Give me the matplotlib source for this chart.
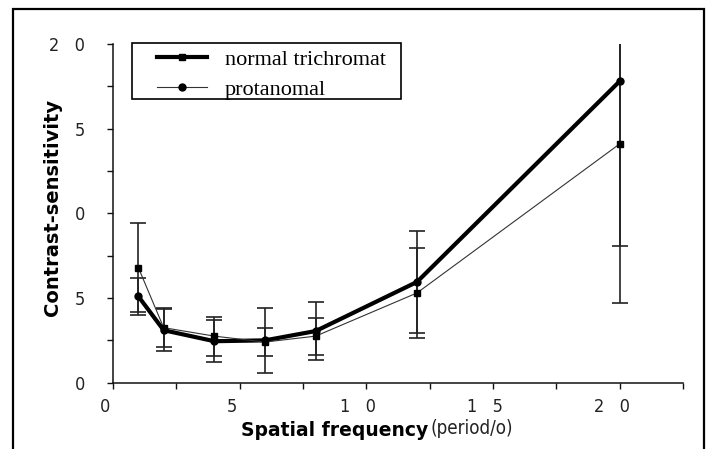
import matplotlib
matplotlib.use("Agg")
import matplotlib.pyplot as plt
from matplotlib import font_manager
from matplotlib.font_manager import FontProperties
from matplotlib.lines import Line2D
from matplotlib.patches import Rectangle
import matplotlib.transforms as mtransforms

# ---- data ----
freq = [1, 2, 4, 6, 8, 12, 20]
normal = [5.1, 3.1, 2.45, 2.5, 3.05, 5.95, 17.8]
normal_err = [1.1, 1.25, 1.25, 1.9, 1.7, 3.0, 13.1]
protan = [6.8, 3.25, 2.75, 2.4, 2.75, 5.3, 14.1]
protan_err = [2.65, 1.15, 1.15, 0.85, 1.1, 2.65, 6.0]

xticks = [0, 5, 10, 15, 20]
xticklabels = ["0", "5", "1   0", "1   5", "2   0"]
yticks = [0, 5, 10, 15, 20]
yticklabels = ["0", "5", "0", "5", "2   0"]
series_labels = ["normal trichromat", "protanomal"]

W, H = 713, 449
names = {f.name for f in font_manager.fontManager.ttflist}
cond_file = None
for f in font_manager.fontManager.ttflist:
    fn = f.fname.lower()
    if "narrow" in fn and "liberationsans" in fn.replace("-", "") and "bold" not in fn and "italic" not in fn:
        cond_file = f.fname
        break
if cond_file is None:
    for f in font_manager.fontManager.ttflist:
        fn = f.fname.lower()
        if "dejavusanscondensed.ttf" in fn:
            cond_file = f.fname
            break
serif = "Liberation Serif" if "Liberation Serif" in names else "DejaVu Serif"


def narrow_prop(size):
    if cond_file:
        return FontProperties(fname=cond_file, size=size)
    return FontProperties(family="DejaVu Sans", size=size)


fig = plt.figure(figsize=(W / 100, H / 100), dpi=100)
fig.patch.set_facecolor("white")


def fx(px):
    return px / W


def fy(py):
    return 1 - py / H


ax = fig.add_axes([fx(113), fy(382.7), (683 - 113) / W, (382.7 - 44) / H])
ax.set_xlim(0, 22.5)
ax.set_ylim(0, 20)

# error bars
ax.errorbar(freq, normal, yerr=normal_err, fmt="none", ecolor="#222222",
            elinewidth=1.2, capsize=5.5, capthick=1.2, zorder=2)
ax.errorbar(freq, protan, yerr=protan_err, fmt="none", ecolor="#222222",
            elinewidth=1.2, capsize=5.5, capthick=1.2, zorder=2)

# lines
ax.plot(freq, normal, color="black", lw=3.0, marker="o", ms=5, zorder=3)
ax.plot(freq, protan, color="#333333", lw=0.8, marker="s", ms=5, mfc="black",
        mec="black", zorder=3)

for s in ["top", "right"]:
    ax.spines[s].set_visible(False)
for s in ["left", "bottom"]:
    ax.spines[s].set_linewidth(1.1)
    ax.spines[s].set_color("#111111")

ax.set_xticks(xticks)
ax.set_xticklabels(xticklabels)
ax.set_xticks([2.5, 7.5, 12.5, 17.5, 22.5], minor=True)
ax.set_yticks(yticks)
ax.set_yticklabels(yticklabels)
ax.set_yticks([2.5, 7.5, 12.5, 17.5], minor=True)

ax.tick_params(axis="both", which="both", direction="out", length=4,
               width=1.0, color="#111111")
ax.tick_params(axis="x", which="major", pad=7, labelcolor="#222222")
ax.tick_params(axis="y", which="major", pad=16, labelcolor="#222222")
for lab in ax.get_xticklabels() + ax.get_yticklabels():
    lab.set_fontproperties(narrow_prop(13))

offset = mtransforms.ScaledTranslation(-8 / 100, 0, fig.dpi_scale_trans)
for lab in ax.get_xticklabels():
    lab.set_transform(lab.get_transform() + offset)

# axis labels
fig.text(fx(53), fy(207), "Contrast-sensitivity", rotation=90, ha="center",
         va="center", fontsize=14, fontweight="bold", family="DejaVu Sans")
fig.text(fx(428), fy(436), "Spatial frequency", ha="right", va="baseline",
         fontsize=13.5, fontweight="bold", family="DejaVu Sans")
fig.text(fx(431), fy(434), "(period/o)", ha="left", va="baseline",
         fontproperties=narrow_prop(13.5), color="#222222")

# legend
handles = [
    Line2D([], [], color="black", lw=3.0, marker="s", ms=5),
    Line2D([], [], color="#333333", lw=0.8, marker="o", ms=5, mfc="black", mec="black"),
]
leg = fig.legend(handles, series_labels, loc="upper left",
                 bbox_to_anchor=(fx(157), fy(49)), bbox_transform=fig.transFigure,
                 frameon=False, borderpad=0, borderaxespad=0,
                 handlelength=2.25, handletextpad=0.8, labelspacing=0.43,
                 prop={"family": serif, "size": 16})
fig.add_artist(Rectangle((fx(132), fy(99)), (401 - 132) / W, (99 - 43) / H,
                         transform=fig.transFigure, fill=False, lw=1.2,
                         edgecolor="black"))

# figure border
fig.add_artist(Rectangle((fx(13), -0.1), (704 - 13) / W, fy(9) + 0.1,
                         transform=fig.transFigure, fill=False, lw=1.6,
                         edgecolor="black", clip_on=False))

fig.savefig("out.png", dpi=100)
